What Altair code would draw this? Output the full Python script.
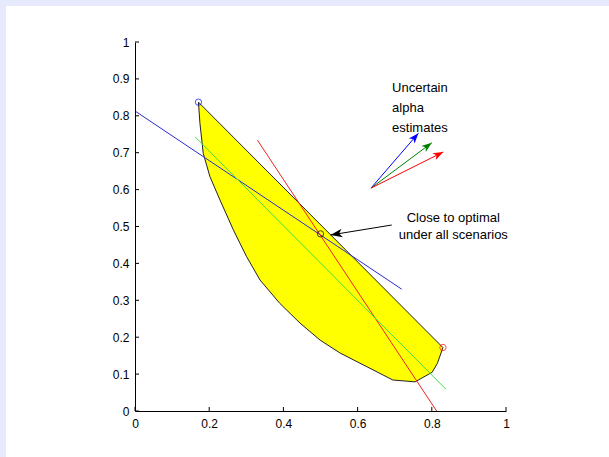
import math
import altair as alt
import pandas as pd

# ---- data ----
poly_x = [0.171, 0.175, 0.184, 0.202, 0.229, 0.265, 0.301, 0.337, 0.390, 0.445, 0.499, 0.553,
          0.625, 0.695, 0.755, 0.801, 0.815, 0.830, 0.171]
poly_y = [0.837, 0.780, 0.698, 0.635, 0.572, 0.491, 0.418, 0.355, 0.292, 0.238, 0.192, 0.157,
          0.120, 0.084, 0.079, 0.105, 0.129, 0.172, 0.837]

line_names = ["blue", "blue", "red", "red", "green", "green"]
line_x = [0.0, 0.719, 0.330, 0.813, 0.162, 0.838]
line_y = [0.813, 0.330, 0.734, 0.0, 0.743, 0.059]

circle_x = [0.171, 0.5, 0.830]
circle_y = [0.837, 0.48, 0.172]
circle_c = ["#0000ff", "#000000", "#ff0000"]

arrow_names = ["blue", "green", "red", "black"]
arrow_x0 = [0.636, 0.636, 0.636, 0.692]
arrow_y0 = [0.604, 0.604, 0.604, 0.504]
arrow_x1 = [0.764, 0.800, 0.831, 0.527]
arrow_y1 = [0.753, 0.727, 0.702, 0.477]
arrow_c = ["#0000ff", "#008000", "#ff0000", "#000000"]
arrow_size = [190, 190, 190, 250]

texts = ["Uncertain", "alpha", "estimates", "Close to optimal", "under all scenarios"]
text_x = [0.693, 0.693, 0.693, 0.858, 0.858]
text_y = [0.864, 0.811, 0.757, 0.513, 0.465]
text_align = ["left", "left", "left", "center", "center"]

x_ticks = [0, 0.2, 0.4, 0.6, 0.8, 1]
y_ticks = [0, 0.1, 0.2, 0.3, 0.4, 0.5, 0.6, 0.7, 0.8, 0.9, 1]

W, H = 371, 369
FONT = "Liberation Sans"

xs = alt.Scale(domain=[0, 1], nice=False, zero=False)
ys = alt.Scale(domain=[0, 1], nice=False, zero=False)

axis_common = dict(title=None, grid=False, ticks=False, domainColor="black", labelColor="black",
                   labelFont=FONT, labelFontSize=12, zindex=1, labelFlush=False,
                   labelOverlap=False, format="~g")
x_axis = alt.Axis(values=x_ticks, labelPadding=7, **axis_common)
y_axis = alt.Axis(values=y_ticks, labelPadding=6, **axis_common)

poly_df = pd.DataFrame({"x": poly_x, "y": poly_y, "i": list(range(len(poly_x)))})
lines_df = pd.DataFrame({"x": line_x, "y": line_y, "s": line_names})
circ_df = pd.DataFrame({"x": circle_x, "y": circle_y, "c": circle_c})

ang = []
for i in range(len(arrow_names)):
    dx = (arrow_x1[i] - arrow_x0[i]) * W
    dy = (arrow_y1[i] - arrow_y0[i]) * H
    ang.append(math.degrees(math.atan2(dx, dy)) % 360)
arr_seg = pd.DataFrame({"x": arrow_x0, "y": arrow_y0, "x2": arrow_x1, "y2": arrow_y1, "c": arrow_c})
arr_head = pd.DataFrame({"x": arrow_x1, "y": arrow_y1, "c": arrow_c, "a": ang, "sz": arrow_size})
text_df = pd.DataFrame({"t": texts, "x": text_x, "y": text_y, "al": text_align})


def X(f="x:Q"):
    return alt.X(f, scale=xs, axis=x_axis)


def Y(f="y:Q"):
    return alt.Y(f, scale=ys, axis=y_axis)


bg = alt.Chart(pd.DataFrame({"k": [0]})).mark_rect(color="white", clip=False).encode(
    x=alt.value(-129), x2=alt.value(474), y=alt.value(-36), y2=alt.value(415))

poly = alt.Chart(poly_df).mark_line(fill="#ffff00", stroke="#222222", strokeWidth=1).encode(
    x=X(), y=Y(), order="i:Q")

lines = alt.Chart(lines_df).mark_line(strokeWidth=1).encode(
    x=X(), y=Y(),
    color=alt.Color("s:N", scale=alt.Scale(domain=["blue", "red", "green"],
                                           range=["#2a2ad0", "#ee2222", "#40e040"]), legend=None))

circ = alt.Chart(circ_df).mark_point(shape="circle", filled=False, size=40, strokeWidth=1).encode(
    x=X(), y=Y(), color=alt.Color("c:N", scale=None))

segs = alt.Chart(arr_seg).mark_rule(strokeWidth=1).encode(
    x=X(), y=Y(), x2="x2:Q", y2="y2:Q", color=alt.Color("c:N", scale=None))

heads = alt.Chart(arr_head).mark_point(
    shape="M0,0L-0.55,1.5L0,1.1L0.55,1.5Z", filled=True, opacity=1, strokeWidth=0).encode(
    x=X(), y=Y(),
    color=alt.Color("c:N", scale=None),
    angle=alt.Angle("a:Q", scale=None),
    size=alt.Size("sz:Q", scale=None))

tl = alt.Chart(text_df[text_df.al == "left"]).mark_text(
    align="left", baseline="alphabetic", font=FONT, fontSize=13, color="black").encode(
    x=X(), y=Y(), text="t:N")
tc = alt.Chart(text_df[text_df.al == "center"]).mark_text(
    align="center", baseline="alphabetic", font=FONT, fontSize=13, color="black").encode(
    x=X(), y=Y(), text="t:N")

xt = alt.Chart(pd.DataFrame({"v": x_ticks})).mark_rule(color="black", strokeWidth=1).encode(
    x=X("v:Q"), y=alt.value(H), y2=alt.value(H - 4))
yt = alt.Chart(pd.DataFrame({"v": y_ticks})).mark_rule(color="black", strokeWidth=1).encode(
    y=Y("v:Q"), x=alt.value(0), x2=alt.value(4))

chart = alt.layer(bg, poly, lines, circ, segs, heads, tl, tc, xt, yt).properties(
    width=W, height=H,
    autosize=alt.AutoSizeParams(type="none"),
    padding={"left": 135, "top": 42, "right": 103, "bottom": 46},
    background="#e6eafc",
).configure_view(strokeWidth=0).configure_axis(labelOverlap=False)

chart.save("out.html", embed_options={"renderer": "svg", "actions": False})
